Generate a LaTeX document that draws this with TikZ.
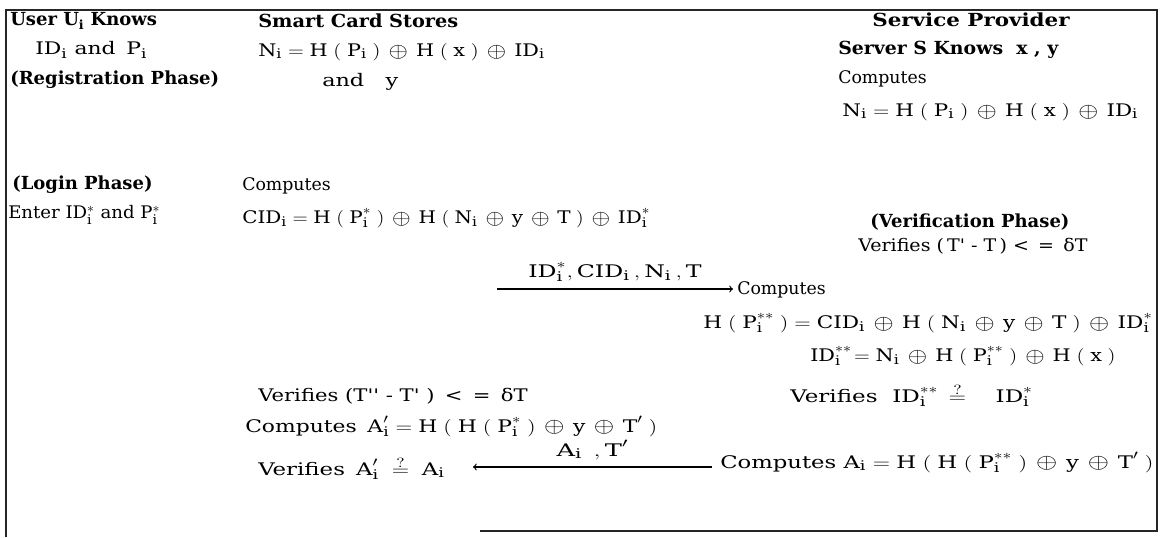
\RequirePackage{fix-cm}
\documentclass[tikz,border=0pt]{standalone}
\usepackage{fontspec}
\setmainfont{DejaVu Serif}
\DeclareMathSizes{13}{13}{10}{8}
\newcommand\ox{\mathbin{\,\vcenter{\hbox{\scalebox{1.2}{$\oplus$}}}\,}}
\newcommand\lp{\;(\;}
\newcommand\rp{\;)}
\newcommand\fitw[2]{\resizebox{#1}{\height}{#2}}
\newcommand\qeq{\stackrel{\raisebox{-1.5pt}{$\scriptstyle ?$}}{=}}
\begin{document}
\begin{tikzpicture}[x=0.75pt,y=-0.75pt,
  txt/.style={anchor=west,inner sep=0pt,font=\fontsize{13}{15}\selectfont},
  hd/.style={anchor=west,inner sep=0pt,font=\bfseries\fontsize{13.5}{16}\selectfont},
  lbl/.style={inner sep=0pt,font=\fontsize{13}{15}\selectfont},
  frame/.style={line width=1.3pt,black!85},
  msg/.style={->,line width=0.9pt}]
\useasboundingbox (0,0) rectangle (1163,537);
% frame
\coordinate (tl) at (6,10);
\coordinate (tr) at (1157,10);
\coordinate (br) at (1157,531);
\coordinate (bm) at (480,531);
\coordinate (bl) at (6,537);
\draw[frame] (bl) -- (tl) -- (tr) -- (br) -- (bm);
% user column
\node[hd] (u1) at (10,21) {User U$_{\mathbf{i}}$ Knows};
\node[txt] (u2) at (35,50) {\fitw{84pt}{ID$_{\mathrm{i}}$ and \,P$_{\mathrm{i}}$}};
\node[hd] (u3) at (10,80) {(Registration Phase)};
\node[hd] (u4) at (12,185) {(Login Phase)};
\node[txt] (u5) at (8,215) {\fitw{114pt}{Enter ID$_{\mathrm{i}}^{*}$ and P$_{\mathrm{i}}^{*}$}};
% smart card
\node[hd] (s1) at (258,21) {\fitw{150pt}{Smart Card Stores}};
\node[txt] (s2) at (258,52) {\fitw{215pt}{$\mathrm{N_i = H\lp P_i\rp\ox H\lp x\rp\ox ID_i}$}};
\node[txt] (s3) at (322,82) {\fitw{57pt}{and \ \ y}};
\node[txt] (c1) at (242,186) {Computes};
\node[txt] (c2) at (242,218) {\fitw{306pt}{$\mathrm{CID_i = H\lp P_i^{*}\rp\ox H\lp N_i\ox y\ox T\rp\ox ID_i^{*}}$}};
% server
\node[hd] (v1) at (872,20) {\fitw{148pt}{Service Provider}};
\node[hd] (v2) at (838,50) {\fitw{165pt}{Server S Knows \ x , y}};
\node[txt] (v3) at (838,79) {Computes};
\node[txt] (v4) at (842,112) {\fitw{222pt}{$\mathrm{N_i = H\lp P_i\rp\ox H\lp x\rp\ox ID_i}$}};
\node[hd] (w1) at (870,222) {(Verification Phase)};
\node[txt] (w2) at (858,246) {\fitw{172pt}{Verifies (\,T\textquotesingle\ - T\,) < \,= \,δT}};
\node[txt] (w3) at (737,290) {Computes};
\node[txt] (w4) at (703,323) {\fitw{337pt}{$\mathrm{H\lp P_i^{**}\rp = CID_i\ox H\lp N_i\ox y\ox T\rp\ox ID_i^{*}}$}};
\node[txt] (w5) at (810,356) {\fitw{229pt}{$\mathrm{ID_i^{**}\!= N_i\ox H\lp P_i^{**}\rp\ox H\lp x\rp}$}};
\node[txt] (w6) at (790,395) {\fitw{182pt}{Verifies \ $\mathrm{ID_i^{**}\,\qeq\quad ID_i^{*}}$}};
\node[txt] (w7) at (720,462) {\fitw{325pt}{Computes $\mathrm{A_i = H\lp H\lp P_i^{**}\rp\ox y\ox T'\rp}$}};
% user verification
\node[txt] (x1) at (258,396) {\fitw{202pt}{Verifies (T\textquotesingle\textquotesingle\ - T\textquotesingle\ ) \,< \,= \,δT}};
\node[txt] (x2) at (245,426) {\fitw{309pt}{Computes \,$\mathrm{A'_i = H\lp H\lp P_i^{*}\rp\ox y\ox T'\rp}$}};
\node[txt] (x3) at (258,468) {\fitw{140pt}{Verifies \,$\mathrm{A'_i\;\qeq\; A_i}$}};
% messages
\coordinate (m1s) at (497,289);
\coordinate (m1e) at (733,289);
\draw[msg] (m1s) -- node[lbl,above=5pt] (l1) {\fitw{130pt}{$\mathrm{ID_i^{*}, CID_i\,, N_i\,, T}$}} (m1e);
\coordinate (m2s) at (712,467);
\coordinate (m2e) at (473,467);
\draw[msg] (m2s) -- node[lbl,above=5pt] (l2) {\fitw{54pt}{$\mathrm{A_i\;\,, T'}$}} (m2e);
\end{tikzpicture}
\end{document}
